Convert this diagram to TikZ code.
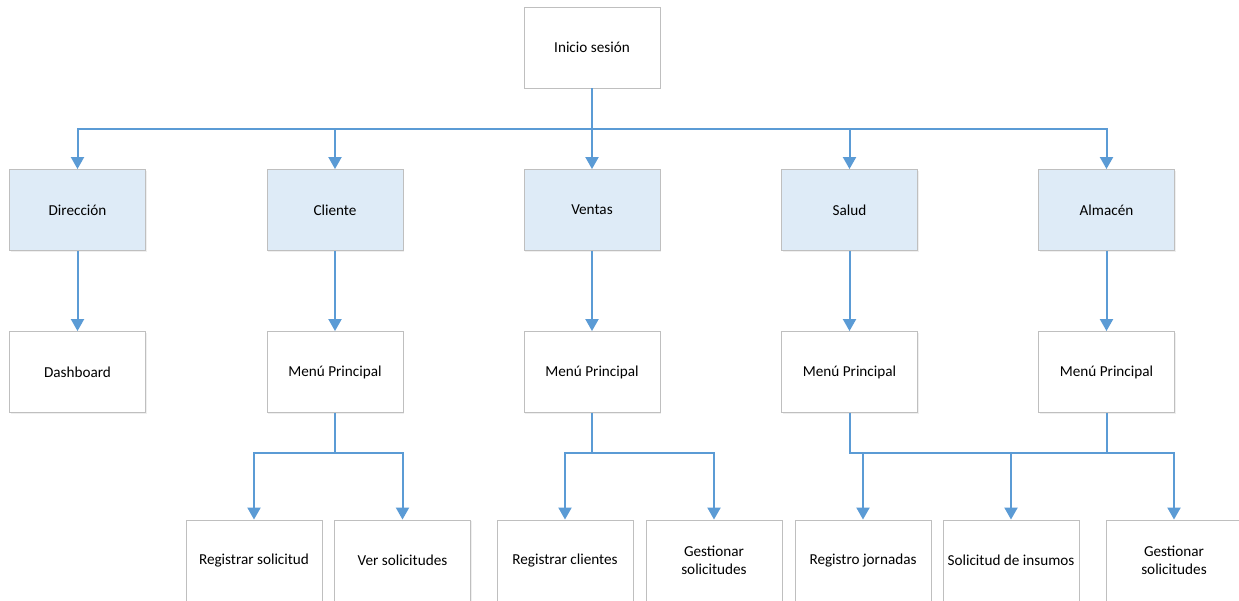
\documentclass[tikz,border=0pt]{standalone}
\usepackage{fontspec}
\setmainfont{Carlito}
\usetikzlibrary{arrows.meta,shadows}
\definecolor{linkblue}{HTML}{5B9BD5}
\definecolor{rolefill}{HTML}{DEEBF7}
\definecolor{boxline}{HTML}{BFBFBF}
\begin{document}
\begin{tikzpicture}[x=1pt,y=-1pt,
  box/.style={draw=boxline,line width=0.9pt,fill=white,minimum width=136pt,minimum height=81pt,
    inner sep=2pt,align=center,font=\fontsize{15.2}{18}\selectfont,
    drop shadow={opacity=0.12,shadow xshift=1.2pt,shadow yshift=-1.2pt}},
  rolebox/.style={box,fill=rolefill},
  arr/.style={draw=linkblue,line width=2pt,-{Triangle[width=13pt,length=12pt]}},
  bus/.style={draw=linkblue,line width=2pt}]
\useasboundingbox (0,0) rectangle (1239,600);
\fill[white] (0,0) rectangle (1239,600);

% top level
\node[box] (inicio) at (592,47.5) {Inicio sesión};

% roles
\node[rolebox] (dir) at (77.5,210) {Dirección};
\node[rolebox] (cli) at (335,210) {Cliente};
\node[rolebox] (ven) at (592,210) {Ventas};
\node[rolebox] (sal) at (849.5,210) {Salud};
\node[rolebox] (alm) at (1106.5,210) {Almacén};

% second level
\node[box] (dash) at (77.5,372) {Dashboard};
\node[box] (mcli) at (335,372) {Menú Principal};
\node[box] (mven) at (592,372) {Menú Principal};
\node[box] (msal) at (849.5,372) {Menú Principal};
\node[box] (malm) at (1106.5,372) {Menú Principal};

% third level
\node[box] (regsol) at (254,560.5) {Registrar solicitud};
\node[box] (versol) at (402.5,560.5) {Ver solicitudes};
\node[box] (regcli) at (565,560.5) {Registrar clientes};
\node[box] (gesven) at (714,560.5) {Gestionar\\solicitudes};
\node[box] (regjor) at (863,560.5) {Registro jornadas};
\node[box] (solins) at (1011,560.5) {Solicitud de insumos};
\node[box] (gesalm) at (1174,560.5) {Gestionar\\solicitudes};

% bus levels
\coordinate (busA) at (0,129);
\coordinate (busB) at (0,453);

% connectors from the login box
\foreach \r in {dir,cli,ven,sal,alm}
  \draw[arr] (inicio.south) -- (inicio.south |- busA) -| (\r.north);

% role to menu
\draw[arr] (dir.south) -- (dash.north);
\draw[arr] (cli.south) -- (mcli.north);
\draw[arr] (ven.south) -- (mven.north);
\draw[arr] (sal.south) -- (msal.north);
\draw[arr] (alm.south) -- (malm.north);

% menus to actions
\draw[arr] (mcli.south) -- (mcli.south |- busB) -| (regsol.north);
\draw[arr] (mcli.south) -- (mcli.south |- busB) -| (versol.north);
\draw[arr] (mven.south) -- (mven.south |- busB) -| (regcli.north);
\draw[arr] (mven.south) -- (mven.south |- busB) -| (gesven.north);
\draw[arr] (msal.south) -- (msal.south |- busB) -| (regjor.north);
\draw[arr] (msal.south) -- (msal.south |- busB) -| (solins.north);
\draw[arr] (malm.south) -- (malm.south |- busB) -| (gesalm.north);
\draw[bus] (malm.south |- busB) -- (msal.south |- busB);
\end{tikzpicture}
\end{document}
